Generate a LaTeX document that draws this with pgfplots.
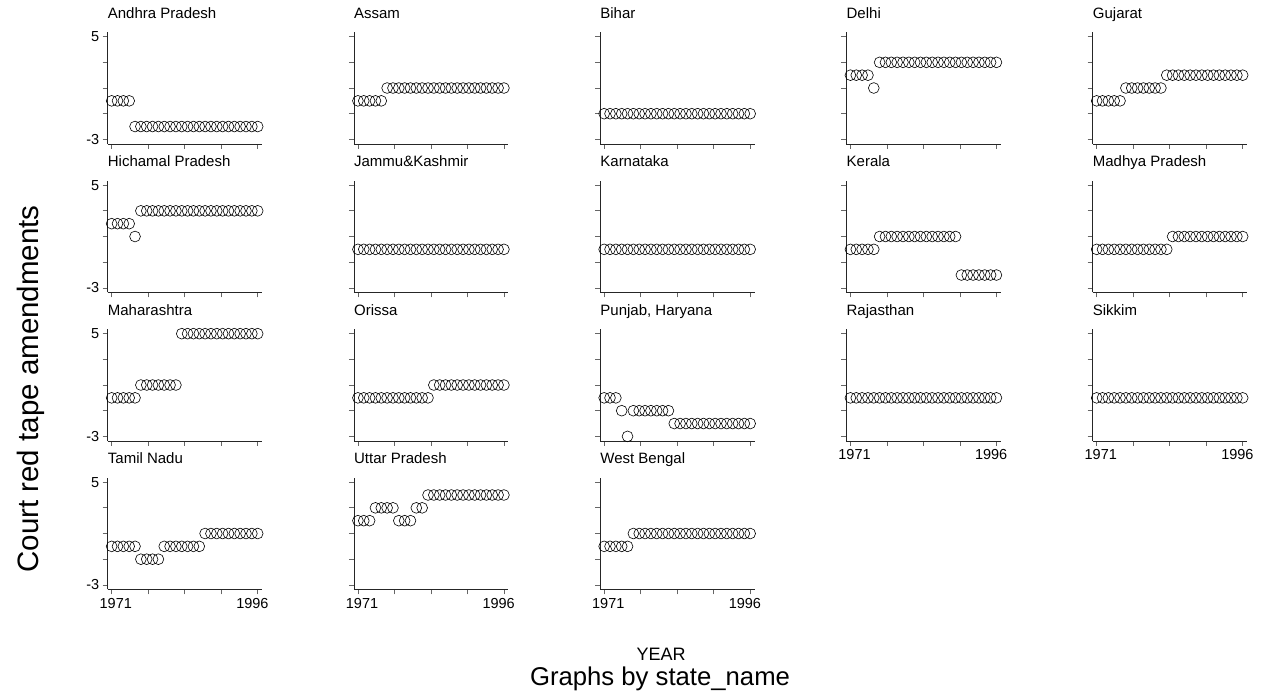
\documentclass[border=0pt]{standalone}
\usepackage{pgfplots}
\pgfplotsset{compat=1.18}
\usepackage{pgfplotstable}
\usepackage{fontspec}
\setmainfont{Liberation Sans}

\pgfplotstableread{
year AP AS BI DL GJ HP JK KA KL MP MH OR PB RJ SK TN UP WB
1971  0 0 -1 2 0 2 0 0 0 0 0 0 0 0 0 0 2 0
1972  0 0 -1 2 0 2 0 0 0 0 0 0 0 0 0 0 2 0
1973  0 0 -1 2 0 2 0 0 0 0 0 0 0 0 0 0 2 0
1974  0 0 -1 2 0 2 0 0 0 0 0 0 -1 0 0 0 3 0
1975 -2 0 -1 1 0 1 0 0 0 0 0 0 -3 0 0 0 3 0
1976 -2 1 -1 3 1 3 0 0 1 0 1 0 -1 0 0 -1 3 1
1977 -2 1 -1 3 1 3 0 0 1 0 1 0 -1 0 0 -1 3 1
1978 -2 1 -1 3 1 3 0 0 1 0 1 0 -1 0 0 -1 2 1
1979 -2 1 -1 3 1 3 0 0 1 0 1 0 -1 0 0 -1 2 1
1980 -2 1 -1 3 1 3 0 0 1 0 1 0 -1 0 0 0 2 1
1981 -2 1 -1 3 1 3 0 0 1 0 1 0 -1 0 0 0 3 1
1982 -2 1 -1 3 1 3 0 0 1 0 1 0 -1 0 0 0 3 1
1983 -2 1 -1 3 2 3 0 0 1 0 5 0 -2 0 0 0 4 1
1984 -2 1 -1 3 2 3 0 0 1 1 5 1 -2 0 0 0 4 1
1985 -2 1 -1 3 2 3 0 0 1 1 5 1 -2 0 0 0 4 1
1986 -2 1 -1 3 2 3 0 0 1 1 5 1 -2 0 0 0 4 1
1987 -2 1 -1 3 2 3 0 0 1 1 5 1 -2 0 0 1 4 1
1988 -2 1 -1 3 2 3 0 0 1 1 5 1 -2 0 0 1 4 1
1989 -2 1 -1 3 2 3 0 0 1 1 5 1 -2 0 0 1 4 1
1990 -2 1 -1 3 2 3 0 0 -2 1 5 1 -2 0 0 1 4 1
1991 -2 1 -1 3 2 3 0 0 -2 1 5 1 -2 0 0 1 4 1
1992 -2 1 -1 3 2 3 0 0 -2 1 5 1 -2 0 0 1 4 1
1993 -2 1 -1 3 2 3 0 0 -2 1 5 1 -2 0 0 1 4 1
1994 -2 1 -1 3 2 3 0 0 -2 1 5 1 -2 0 0 1 4 1
1995 -2 1 -1 3 2 3 0 0 -2 1 5 1 -2 0 0 1 4 1
1996 -2 1 -1 3 2 3 0 0 -2 1 5 1 -2 0 0 1 4 1
}\data

\pgfplotsset{
  panel/.style={
    width=154.3pt, height=111.7pt, scale only axis, anchor=south west,
    xmin=1970.32, xmax=1996.74, ymin=-3.36, ymax=5.34,
    axis x line*=bottom, axis y line*=left,
    axis line style={black!85, line width=0.7pt},
    xtick={1971,1977.25,1983.5,1989.75,1996}, ytick={-3,-1,1,3,5},
    xticklabels={}, yticklabels={},
    tick align=outside, major tick length=5pt,
    tick style={black!60, line width=0.7pt},
    ticklabel style={font=\fontsize{14.5}{16}\selectfont},
    title style={at={(0,1)}, anchor=base west, yshift=8pt, inner sep=0pt,
                 font=\fontsize{15}{18}\selectfont},
    clip=false,
  },
  ylab/.style={yticklabels={-3,,,,5}},
  xlab/.style={extra x ticks={1971.7,1995.1}, extra x tick labels={1971,1996},
     extra x tick style={major tick length=0pt, xticklabel style={yshift=-5pt}}},
}

\newcommand\panel[5]{%
  \pgfmathsetmacro\px{107.7+246.25*#1}%
  \pgfmathsetmacro\py{549-148.5*#2}%
  \begin{axis}[panel, at={(\px pt,\py pt)}, title={#3}, #5]
    \addplot[only marks, mark=o, mark size=5.4pt, mark options={line width=0.6pt, black}]
      table[x=year, y=#4]{\data};
  \end{axis}}

\begin{document}
\begin{tikzpicture}
\useasboundingbox (0,0) rectangle (1266pt,693pt);
\panel{0}{0}{Andhra Pradesh}{AP}{ylab}
\panel{1}{0}{Assam}{AS}{}
\panel{2}{0}{Bihar}{BI}{}
\panel{3}{0}{Delhi}{DL}{}
\panel{4}{0}{Gujarat}{GJ}{}
\panel{0}{1}{Hichamal Pradesh}{HP}{ylab}
\panel{1}{1}{Jammu\&Kashmir}{JK}{}
\panel{2}{1}{Karnataka}{KA}{}
\panel{3}{1}{Kerala}{KL}{}
\panel{4}{1}{Madhya Pradesh}{MP}{}
\panel{0}{2}{Maharashtra}{MH}{ylab}
\panel{1}{2}{Orissa}{OR}{}
\panel{2}{2}{Punjab, Haryana}{PB}{}
\panel{3}{2}{Rajasthan}{RJ}{xlab}
\panel{4}{2}{Sikkim}{SK}{xlab}
\panel{0}{3}{Tamil Nadu}{TN}{ylab,xlab}
\panel{1}{3}{Uttar Pradesh}{UP}{xlab}
\panel{2}{3}{West Bengal}{WB}{xlab}
\node[rotate=90, font=\fontsize{29.5}{32}\selectfont] at (31pt,304pt) {Court red tape amendments};
\node[anchor=base, font=\fontsize{18}{20}\selectfont] at (661pt,32pt) {YEAR};
\node[anchor=base, font=\fontsize{25.7}{28}\selectfont] at (660pt,7pt) {Graphs by state\_name};
\end{tikzpicture}
\end{document}
